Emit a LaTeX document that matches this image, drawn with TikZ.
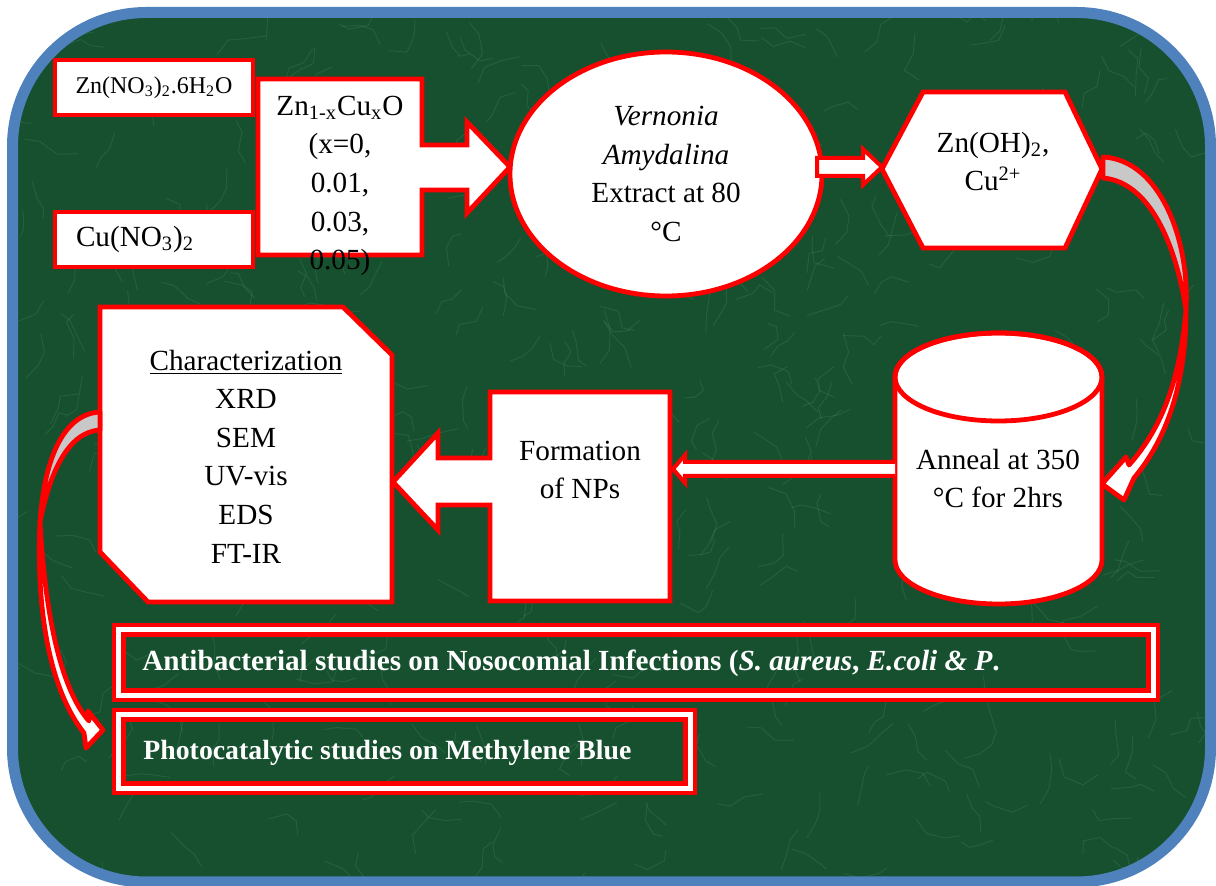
\documentclass[tikz,border=0pt]{standalone}
\usepackage{fontspec}
\setmainfont{Liberation Serif}
\usepackage{xcolor}
\usepackage{tikz}
\usetikzlibrary{shapes.geometric,calc}

\definecolor{frameblue}{RGB}{79,129,189}
\definecolor{marble}{RGB}{22,80,47}
\definecolor{veincol}{RGB}{112,182,138}
\definecolor{undergray}{RGB}{200,200,200}

\tikzset{
  redline/.style={draw=red,line width=2.4pt,line join=miter},
  redshape/.style={redline,fill=white},
  txt/.style={font=\fontsize{14.6}{19.3}\selectfont,align=center,inner sep=0pt},
  smalltxt/.style={font=\fontsize{12}{14}\selectfont,align=center,inner sep=0pt},
  studytxt/.style={text=white,anchor=west,inner sep=0pt},
  vein/.style={draw=veincol,opacity=0.16,line width=0.5pt,line join=round},
  studyframe/.style={draw=red,line width=7pt},
  studywhite/.style={draw=white,line width=2.5pt}
}

\begin{document}
\begin{tikzpicture}[x=0.5pt,y=-0.5pt]
\useasboundingbox (0,0) rectangle (1216,886);

% background panel
\fill[marble,rounded corners=67pt] (12.5,12.5) rectangle (1210.5,882);
\begin{scope}
\clip[rounded corners=67pt] (12.5,12.5) rectangle (1210.5,882);
\pgfmathsetseed{11}
\foreach \i in {1,...,380}{
  \pgfmathsetmacro{\vx}{15+1190*rnd}
  \pgfmathsetmacro{\vy}{15+860*rnd}
  \pgfmathsetmacro{\va}{360*rnd}
  \pgfmathsetmacro{\vb}{\va+70*rand}
  \pgfmathsetmacro{\vc}{\vb+70*rand}
  \draw[vein] (\vx,\vy) -- ++(\va:8+14*rnd) -- ++(\vb:8+14*rnd) -- ++(\vc:8+14*rnd);
}
\end{scope}
\draw[frameblue,line width=5.5pt,rounded corners=67pt] (12.5,12.5) rectangle (1210.5,882);

% starting salts
\node[redshape,smalltxt,minimum width=99pt,minimum height=27.5pt] (znno) at (154,87.5)
  {Zn(NO\textsubscript{3})\textsubscript{2}.6H\textsubscript{2}O};
\node[redshape,txt,minimum width=99pt,minimum height=27.5pt,text width=78pt,align=left,inner xsep=10.5pt] (cuno) at (154,239.5)
  {Cu(NO\textsubscript{3})\textsubscript{2}};

% composition box with arrow
\draw[redshape] (258,79) -- (422,79) -- (422,145) -- (467,145) -- (467,122) -- (510,167)
  -- (467,213) -- (467,190) -- (422,190) -- (422,255) -- (258,255) -- cycle;
\node[txt] (comp) at (340,186)
  {Zn\textsubscript{1-x}Cu\textsubscript{x}O\\(x=0,\\0.01,\\0.03,\\0.05)};

% extract
\node[redshape,ellipse,minimum width=156pt,minimum height=122pt] (extract) at (666,174) {};
\node[txt] (extracttxt) at (666,174)
  {\textit{Vernonia}\\\textit{Amydalina}\\Extract at 80\\\textdegree C};

% small arrow to hydroxide
\draw[redshape,line width=2pt] (817,158) -- (863,158) -- (863,149) -- (882,167) -- (863,185)
  -- (863,176) -- (817,176) -- cycle;

% hydroxide
\draw[redshape] (882,169) -- (923,92) -- (1065,92) -- (1102,169) -- (1065,248) -- (923,248) -- cycle;
\node[txt] (hydrox) at (993,161.5) {Zn(OH)\textsubscript{2},\\Cu\textsuperscript{2+}};

% curved arrow down to annealing
\draw[redline,fill=undergray,line join=round] (1103,157) .. controls (1160,160) and (1190,240) .. (1186,310)
  .. controls (1176,245) and (1150,182) .. (1103,178) -- cycle;
\draw[redshape,line join=round] (1186,310) .. controls (1186,385) and (1166,440) .. (1134,478)
  -- (1124,500) -- (1102,484) -- (1126,457) -- (1129,465)
  .. controls (1162,428) and (1180,380) .. (1186,310) -- cycle;

% annealing cylinder
\draw[redshape] (895,377) -- (895,560) arc (180:360:51.75pt and 22pt) -- (1102,377)
  arc (0:180:51.75pt and 22pt) -- cycle;
\draw[redline] (998.5,377) ellipse (51.75pt and 22pt);
\node[txt] (anneal) at (998,478.5) {Anneal at 350\\\textdegree C for 2hrs};

% arrow to formation
\draw[redshape,line width=2pt] (895,462) -- (685,462) -- (685,455) -- (673,469) -- (685,483)
  -- (685,476) -- (895,476);

% formation box with arrow
\draw[redshape] (670,392) -- (670,601) -- (490,601) -- (490,505) -- (438,505) -- (438,530)
  -- (393,482) -- (438,433) -- (438,458) -- (490,458) -- (490,392) -- cycle;
\node[txt] (formation) at (580,470) {Formation\\of NPs};

% characterization
\draw[redshape] (100,307) -- (343,307) -- (392,355) -- (392,602) -- (148,602) -- (100,552) -- cycle;
\node[txt] (charact) at (246,456.5) {\underline{Characterization}\\XRD\\SEM\\UV-vis\\EDS\\FT-IR};

% curved arrow down to studies
\draw[redline,fill=undergray,line join=round] (100,412) .. controls (62,414) and (44,462) .. (40,522)
  .. controls (50,472) and (68,432) .. (100,430) -- cycle;
\draw[redshape,line join=round] (40,522) .. controls (36,612) and (50,690) .. (84,733)
  -- (86,748) -- (103,730) -- (88,711) -- (89,721)
  .. controls (60,688) and (45,612) .. (40,522) -- cycle;

% studies
\draw[studyframe] (119,630) rectangle (1153,695);
\draw[studywhite] (118.5,629.5) rectangle (1153.5,695.5);
\node[studytxt,font=\fontsize{14.6}{17}\selectfont\bfseries] (antibac) at (142,663)
  {Antibacterial studies on Nosocomial Infections (\textit{S. aureus}, \textit{E.coli \& P}.};
\draw[studyframe] (118.5,715) rectangle (689.5,788);
\draw[studywhite] (118,714.5) rectangle (690,788.5);
\node[studytxt,font=\fontsize{13.9}{17}\selectfont\bfseries] (photo) at (143,753) {Photocatalytic studies on Methylene Blue};
\end{tikzpicture}
\end{document}
